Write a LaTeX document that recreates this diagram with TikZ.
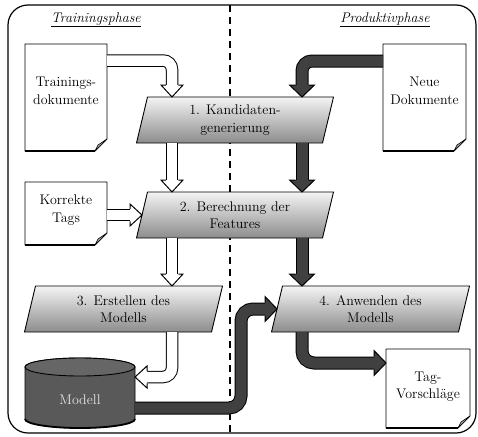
\documentclass[tikz,border=0pt]{standalone}
\usepackage{fontspec}
\usetikzlibrary{calc}
\pgfdeclarelayer{back}
\pgfdeclarelayer{shapes}
\pgfsetlayers{back,shapes,main}
\definecolor{darkarrow}{HTML}{404040}
\definecolor{cylfill}{HTML}{595959}
\definecolor{paratop}{HTML}{F4F4F4}
\definecolor{parabot}{HTML}{8C8C8C}
\definecolor{modtext}{HTML}{E6E6E6}
\definecolor{foldlight}{HTML}{E0E0E0}
\definecolor{folddark}{HTML}{909090}
\tikzset{
  txt/.style={font=\rmfamily\fontsize{14pt}{17.5pt}\selectfont, align=center, inner sep=0pt},
  ttl/.style={font=\rmfamily\fontsize{14pt}{16pt}\selectfont, inner sep=0pt},
  shapebox/.style={inner sep=0pt, outer sep=0pt, draw=none},
  paraline/.style={draw=black, line width=0.9pt, top color=paratop, bottom color=parabot, line join=round},
  hollowout/.style={line width=12.5pt, draw=black},
  hollowin/.style={line width=10.5pt, draw=white},
  darkout/.style={line width=13pt, draw=black},
  darkin/.style={line width=11pt, draw=darkarrow},
}
% #1 fill, #2 tip, #3 rotation, #4 half head width, #5 half shaft width
\newcommand\arrowhead[5]{%
  \fill[#1, shift={(#2)}, rotate=#3] (-12,-#4) -- (0,0) -- (-12,#4) -- cycle;
  \draw[black, line width=1pt, line join=miter, shift={(#2)}, rotate=#3]
    (-12,-#5) -- (-12,-#4) -- (0,0) -- (-12,#4) -- (-12,#5);
}
\newcommand\hollowshaft[2]{\path[hollowout, rounded corners=#1] #2; \path[hollowin, rounded corners=#1] #2;}
\newcommand\darkshaft[2]{\path[darkout, rounded corners=#1] #2; \path[darkin, rounded corners=#1] #2;}
\newcommand\docshape[1]{%
  \path[draw=black, fill=white, line width=0.8pt, line join=round] (#1.north west) -- (#1.north east)
    -- ($(#1.south east)+(0,-12)$) -- ($(#1.south east)+(-12,0)$) -- (#1.south west) -- cycle;
  \draw[line width=2.2pt] (#1.south west) -- ($(#1.south east)+(-12,0)$);
  \path[draw=black, line width=0.6pt, left color=folddark, right color=foldlight, line join=round]
    ($(#1.south east)+(0,-12)$) -- ($(#1.south east)+(-12,0)$) -- ($(#1.south east)+(-9,-6)$) -- cycle;
}
\newcommand\parashape[1]{%
  \path[paraline] ($(#1.south west)+(-5.5,0)$) -- ($(#1.north west)+(5.5,0)$)
    -- ($(#1.north east)+(5.5,0)$) -- ($(#1.south east)+(-5.5,0)$) -- cycle;
}
\begin{document}
\begin{tikzpicture}[x=1pt, y=-1pt]
\useasboundingbox (0,0) rectangle (478,436);
\begin{pgfonlayer}{back}
  \draw[line width=1.2pt, rounded corners=20pt] (8,5) rectangle (476,433);
  \draw[line width=1.8pt, dash pattern=on 7pt off 5pt] (230,5) -- (230,436);
\end{pgfonlayer}

\node[ttl] (ttitle) at (96,20) {\underline{\textit{Trainingsphase}}};
\node[ttl] (ptitle) at (385,20) {\underline{\textit{Produktivphase}}};

\coordinate (tx) at (172,0);
\coordinate (px) at (302,0);
\coordinate (pbend) at (241,0);

\node[shapebox, minimum width=82pt, minimum height=107pt] (tdoc) at (66,97.5) {};
\node[txt] (tdoctxt) at ($(tdoc)+(0,-6.5)$) {Trainings-\\dokumente};
\node[shapebox, minimum width=83pt, minimum height=107pt] (ndoc) at (424.5,97.5) {};
\node[txt] (ndoctxt) at ($(ndoc)+(0,-6.5)$) {Neue\\Dokumente};
\node[shapebox, minimum width=82pt, minimum height=63pt] (ktags) at (66,213.5) {};
\node[txt] (ktagstxt) at ($(ktags)+(0,-3.5)$) {Korrekte\\Tags};
\node[shapebox, minimum width=84pt, minimum height=79pt] (tvs) at (428,388.5) {};
\node[txt] (tvstxt) at ($(tvs)+(0,-2)$) {Tag-\\Vorschläge};

\node[txt, shapebox, minimum width=186pt, minimum height=46pt] (k1) at (235,120) {1. Kandidaten-\\generierung};
\node[txt, shapebox, minimum width=186pt, minimum height=46pt] (k2) at (235,215) {2. Berechnung der\\Features};
\node[txt, shapebox, minimum width=187pt, minimum height=46pt] (k3) at (123.5,309) {3. Erstellen des\\Modells};
\node[txt, shapebox, minimum width=187pt, minimum height=46pt] (k4) at (370.5,309) {4. Anwenden des\\Modells};

\node[shapebox, minimum width=110pt, minimum height=70pt] (mod) at (80,393) {};
\node[txt, text=modtext] (modtxt) at ($(mod)+(0,7)$) {Modell};

\begin{pgfonlayer}{shapes}
  \docshape{tdoc}
  \docshape{ndoc}
  \docshape{ktags}
  \docshape{tvs}
  \parashape{k1}
  \parashape{k2}
  \parashape{k3}
  \parashape{k4}
  \path[draw=black, line width=0.9pt, fill=cylfill] ($(mod.north west)+(0,9)$) -- ($(mod.south west)+(0,-9)$)
    arc[start angle=180, end angle=360, x radius=55pt, y radius=9pt] -- ($(mod.north east)+(0,9)$)
    arc[start angle=0, end angle=180, x radius=55pt, y radius=9pt] -- cycle;
  \draw[line width=1.8pt] ($(mod.south west)+(0,-9)$) arc[start angle=180, end angle=360, x radius=55pt, y radius=9pt];
  \path[draw=black, line width=0.9pt, fill=cylfill!92!white] ($(mod.north)+(0,9)$) ellipse [x radius=55pt, y radius=9pt];
\end{pgfonlayer}

% training (hollow) arrows
\hollowshaft{9pt}{($(tdoc.north east)+(0,16.5)$) -| ($(tx |- k1.north)+(0,-12)$)}
\arrowhead{white}{tx |- k1.north}{-90}{11}{6.25}
\hollowshaft{0pt}{(tx |- k1.south) -- ($(tx |- k2.north)+(0,-12)$)}
\arrowhead{white}{tx |- k2.north}{-90}{11}{6.25}
\hollowshaft{0pt}{(tx |- k2.south) -- ($(tx |- k3.north)+(0,-12)$)}
\arrowhead{white}{tx |- k3.north}{-90}{11}{6.25}
\hollowshaft{0pt}{(ktags.east |- k2.west) -- ($(k2.west)+(-12,0)$)}
\arrowhead{white}{k2.west}{0}{11}{6.25}
\hollowshaft{9pt}{(tx |- k3.south) |- ($(mod.east)+(12,-16)$)}
\arrowhead{white}{$(mod.east)+(0,-16)$}{180}{11}{6.25}

% production (dark) arrows
\darkshaft{10pt}{($(ndoc.north west)+(0,17)$) -| ($(px |- k1.north)+(0,-12)$)}
\arrowhead{darkarrow}{px |- k1.north}{-90}{12.5}{6.5}
\darkshaft{0pt}{(px |- k1.south) -- ($(px |- k2.north)+(0,-12)$)}
\arrowhead{darkarrow}{px |- k2.north}{-90}{12.5}{6.5}
\darkshaft{0pt}{(px |- k2.south) -- ($(px |- k4.north)+(0,-12)$)}
\arrowhead{darkarrow}{px |- k4.north}{-90}{12.5}{6.5}
\darkshaft{12pt}{($(mod.east)+(0,15)$) -| (pbend |- k4.west) -- ($(k4.west)+(-12,0)$)}
\arrowhead{darkarrow}{k4.west}{0}{12.5}{6.5}
\darkshaft{12pt}{(px |- k4.south) |- ($(tvs.north west)+(-12,14)$)}
\arrowhead{darkarrow}{$(tvs.north west)+(0,14)$}{0}{12.5}{6.5}
\end{tikzpicture}
\end{document}
